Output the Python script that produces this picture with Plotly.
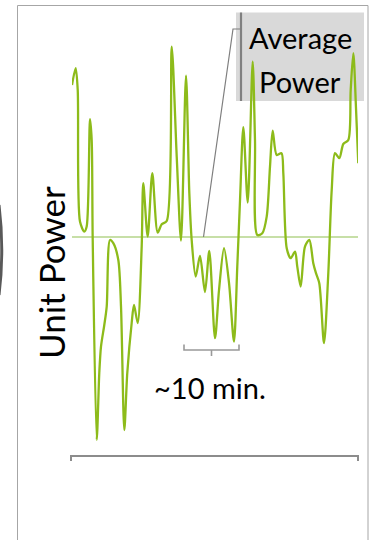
import plotly.graph_objects as go

# time in minutes, power in arbitrary units (average = 100)
minutes = [0.0, 0.67, 1.04, 1.45, 2.24, 2.67, 3.27, 3.58, 3.76, 4.49, 4.96, 5.27, 5.87, 6.31,
           6.91, 7.51, 8.42, 8.91, 9.51, 10.05, 10.85, 11.27, 11.95, 12.67, 12.96, 13.76,
           14.6, 15.58, 16.31, 17.22, 18.13, 19.04, 19.82, 20.73, 21.33, 21.76, 22.49,
           23.27, 24.18, 24.96, 26.0, 26.73, 27.64, 28.55, 29.45, 30.05, 30.55, 31.15,
           31.95, 32.85, 33.27, 33.69, 34.6, 35.4, 36.0, 36.49, 37.22, 38.09, 38.42,
           39.04, 39.76, 40.55, 40.96, 41.58, 42.36, 43.15, 43.87, 44.36, 44.96, 45.82,
           46.6, 47.22, 47.82, 48.6, 49.33, 50.24, 50.67, 51.15, 51.64, 52.05]
power = [176, 184.4, 173.5, 107.7, 102.7, 105.2, 158.9, 148.5, 99.7, -1.5, 32, 45.2, 56, 65.2,
         98.5, 96.9, 88.5, 65.2, 3.5, 32, 57, 66, 57, 95.2, 126.9, 100.2,
         131.9, 102.2, 106.4, 108, 195.2, 140.2, 98.2, 180.7, 122, 98.5, 80.2,
         90.5, 72.5, 93, 49.4, 73.5, 94.4, 76.9, 47.7, 85.2, 118.5, 154.9,
         117.2, 187.7, 148.5, 101, 101.9, 110.2, 135.2, 153.2, 141, 141.9, 131.9,
         94.4, 89.4, 92.7, 85.2, 75.2, 95.2, 98.5, 86.9, 81.9, 76.9, 46.9,
         81.9, 123.5, 141.9, 139.4, 146.5, 148.5, 173.5, 191.9, 164.2, 136.9]
average_power = 100
t_start, t_end = 0.0, 52.0

W, H = 371, 540
L, R, T, B = 72, 13, 40, 80


def px(x):
    return (x - L) / (W - L - R)


def py(y):
    return (H - B - y) / (H - T - B)


fig = go.Figure()
fig.add_trace(go.Scatter(x=[t_start, t_end], y=[average_power, average_power], mode="lines",
                         line=dict(color="#b4d58a", width=1.6), hoverinfo="skip"))
fig.add_trace(go.Scatter(x=minutes, y=power, mode="lines",
                         line=dict(color="#8dbb1a", width=2.3, shape="spline", smoothing=0.8),
                         hoverinfo="skip"))

shapes = []
# outer frame
shapes.append(dict(type="path", xref="paper", yref="paper",
                   path=f"M {px(17.5)},{py(545)} L {px(17.5)},{py(5.5)} L {px(368)},{py(5.5)} L {px(368)},{py(545)}",
                   line=dict(color="#a6a6a6", width=1)))
# dark arc at left edge
shapes.append(dict(type="path", xref="paper", yref="paper",
                   path=f"M {px(-1)},{py(205)} Q {px(4.5)},{py(250)} {px(-1)},{py(295)}",
                   line=dict(color="#595959", width=3)))
# annotation box
shapes.append(dict(type="rect", xref="paper", yref="paper",
                   x0=px(236), x1=px(364), y0=py(12.5), y1=py(101),
                   fillcolor="#d9d9d9", line=dict(width=0), layer="below"))
shapes.append(dict(type="line", xref="paper", yref="paper",
                   x0=px(241), x1=px(241), y0=py(12.5), y1=py(101),
                   line=dict(color="#808080", width=2.2)))
# leader line
shapes.append(dict(type="path", xref="paper", yref="paper",
                   path=f"M {px(241)},{py(29)} L {px(233)},{py(29)} L {px(203.5)},{py(237)}",
                   line=dict(color="#7f7f7f", width=1.2)))
# ~10 min bracket
shapes.append(dict(type="path", xref="paper", yref="paper",
                   path=f"M {px(184)},{py(344.5)} L {px(184)},{py(350)} L {px(239)},{py(350)} L {px(239)},{py(344.5)}",
                   line=dict(color="#999999", width=1.6)))
shapes.append(dict(type="line", xref="paper", yref="paper",
                   x0=px(211.5), x1=px(211.5), y0=py(350), y1=py(356),
                   line=dict(color="#999999", width=1.6)))
# bottom axis bracket
shapes.append(dict(type="path", xref="paper", yref="paper",
                   path=f"M {px(71)},{py(461)} L {px(71)},{py(456)} L {px(358)},{py(456)} L {px(358)},{py(461)}",
                   line=dict(color="#8c8c8c", width=2)))

font = "Lato, 'Open Sans', sans-serif"
annotations = [
    dict(text="Average", x=px(300), y=py(37), xref="paper", yref="paper", showarrow=False,
         font=dict(family=font, size=29, color="#000000"), xanchor="center", yanchor="middle"),
    dict(text="Power", x=px(300), y=py(81), xref="paper", yref="paper", showarrow=False,
         font=dict(family=font, size=29, color="#000000"), xanchor="center", yanchor="middle"),
    dict(text="~10 min.", x=px(210), y=py(387), xref="paper", yref="paper", showarrow=False,
         font=dict(family=font, size=29, color="#000000"), xanchor="center", yanchor="middle"),
    dict(text="Unit Power", x=px(51), y=py(273), xref="paper", yref="paper", showarrow=False,
         textangle=-90, font=dict(family=font, size=35, color="#000000"),
         xanchor="center", yanchor="middle"),
]

fig.update_layout(
    width=W, height=H, margin=dict(l=L, r=R, t=T, b=B),
    paper_bgcolor="white", plot_bgcolor="rgba(0,0,0,0)",
    showlegend=False, shapes=shapes, annotations=annotations,
    xaxis=dict(range=[t_start, t_end], visible=False, fixedrange=True),
    yaxis=dict(range=[-11.5, 198.5], visible=False, fixedrange=True),
)
fig.write_html("out.html", config={"displayModeBar": False},
               post_script="document.body.style.margin='0';document.body.style.overflow='hidden';")
